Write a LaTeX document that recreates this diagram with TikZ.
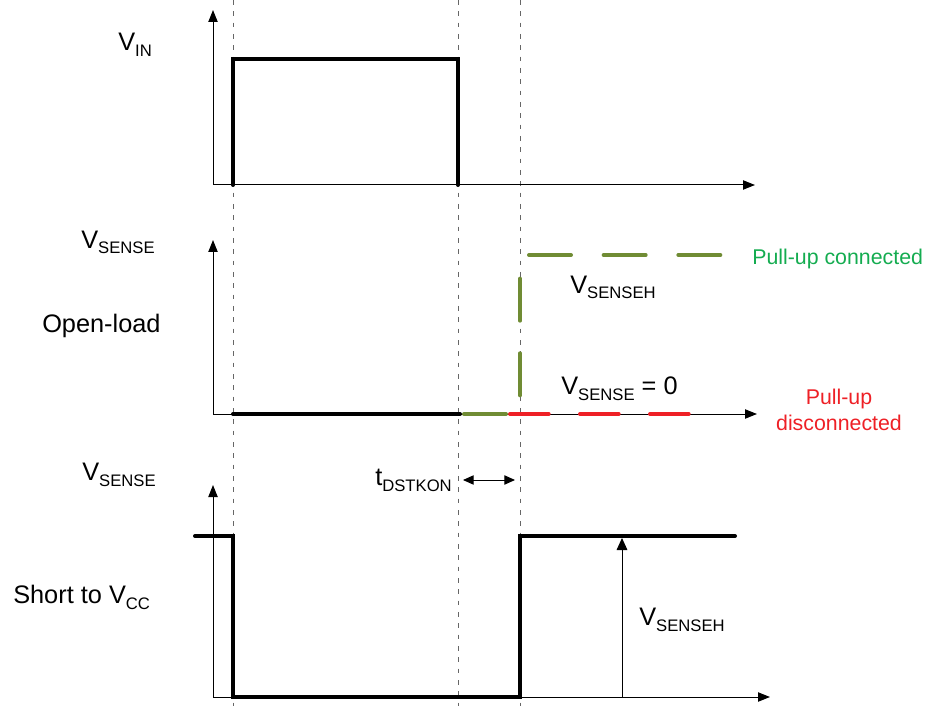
\documentclass[tikz,border=0pt]{standalone}
\usepackage{fontspec}
\setmainfont{Liberation Sans}
\usetikzlibrary{arrows.meta}
\definecolor{pullgreen}{RGB}{112,140,52}
\definecolor{textgreen}{RGB}{20,172,80}
\definecolor{pullred}{RGB}{238,32,38}
\newcommand{\subtxt}[1]{\raisebox{-4.5pt}{\fontsize{12.5}{13}\selectfont #1}}
\tikzset{ lbl/.style = { rectangle % black label
        , inner sep = 0pt
        , anchor = base west
        , font = \fontsize{19}{22}\selectfont
        }
        , note/.style = { rectangle % coloured note
        , inner sep = 0pt
        , font = \fontsize{16}{19.5}\selectfont
        }
        }

\begin{document}
\begin{tikzpicture}[x=0.75pt, y=-0.75pt,
        axis_style/.style={draw=black, line width=0.75pt, -{Triangle[length=9pt,width=7pt]}},
        wave_style/.style={draw=black, line width=3pt, line cap=round},
        mark_style/.style={draw=black!60, line width=0.75pt, dash pattern=on 3.5pt off 5pt},
        up_style/.style={draw=pullgreen, line width=3pt, line cap=round, dash pattern=on 31.5pt off 24.5pt},
        down_style/.style={draw=pullred, line width=3pt, line cap=round, dash pattern=on 29pt off 23.5pt},
        dim_style/.style={draw=black, line width=0.75pt, {Triangle[length=8pt,width=7pt]}-{Triangle[length=8pt,width=7pt]}},
        level_style/.style={draw=black, line width=0.75pt, -{Triangle[length=9pt,width=8pt]}}]
        \useasboundingbox (0,0) rectangle (929,706);

        % time markers
        \foreach \mx in {233,458,520}
            \draw [mark_style] (\mx,0) -- (\mx,706);

        % axes
        \coordinate (o1) at (213,185); \coordinate (y1) at (213,10);  \coordinate (x1) at (755,185);
        \coordinate (o2) at (213,414); \coordinate (y2) at (213,240); \coordinate (x2) at (757,414);
        \coordinate (o3) at (213,697); \coordinate (y3) at (213,485); \coordinate (x3) at (770,697);
        \draw [axis_style] (o1) -- (y1);
        \draw [axis_style] (o1) -- (x1);
        \draw [axis_style] (o2) -- (y2);
        \draw [axis_style] (o2) -- (x2);
        \draw [axis_style] (o3) -- (y3);
        \draw [axis_style] (o3) -- (x3);

        % input pulse
        \draw [wave_style] (233,185) -- (233,59) -- (458,59) -- (458,185);

        % open-load
        \draw [wave_style] (233,414) -- (460,414);
        \draw [down_style] (510,414) -- (691,414);
        \draw [up_style] (464,414) -- (520,414) -- (520,255) -- (721,255);

        % short to vcc
        \draw [wave_style] (195,536) -- (233,536) -- (233,697) -- (520,697) -- (520,536) -- (735,536);
        \coordinate (lv_b) at (622,697);
        \coordinate (lv_t) at (622,538);
        \draw [level_style] (lv_b) -- (lv_t);

        % blanking time
        \coordinate (t_l) at (463,480);
        \coordinate (t_r) at (515,480);
        \draw [dim_style] (t_l) -- (t_r);

        \node [lbl] (vin) at (118,51) {V\subtxt{IN}};
        \node [lbl] (vsense_a) at (81,248) {V\subtxt{SENSE}};
        \node [lbl] (openload) at (42,332) {Open-load};
        \node [lbl] (vsense_b) at (82,480) {V\subtxt{SENSE}};
        \node [lbl] (shortvcc) at (13,603) {Short to V\subtxt{CC}};
        \node [lbl] (vsenseh_a) at (570,293) {V\subtxt{SENSEH}};
        \node [lbl] (vsense_zero) at (561,394) {V\subtxt{SENSE} = 0};
        \node [lbl] (tdstkon) at (375,485) {t\subtxt{DSTKON}};
        \node [lbl] (vsenseh_b) at (639,625) {V\subtxt{SENSEH}};
        \node [note, anchor=base west, text=textgreen] (connected) at (752,265) {Pull-up connected};
        \node [note, align=center, text=pullred] (disconnected) at (839,410) {Pull-up\\disconnected};
\end{tikzpicture}
\end{document}
